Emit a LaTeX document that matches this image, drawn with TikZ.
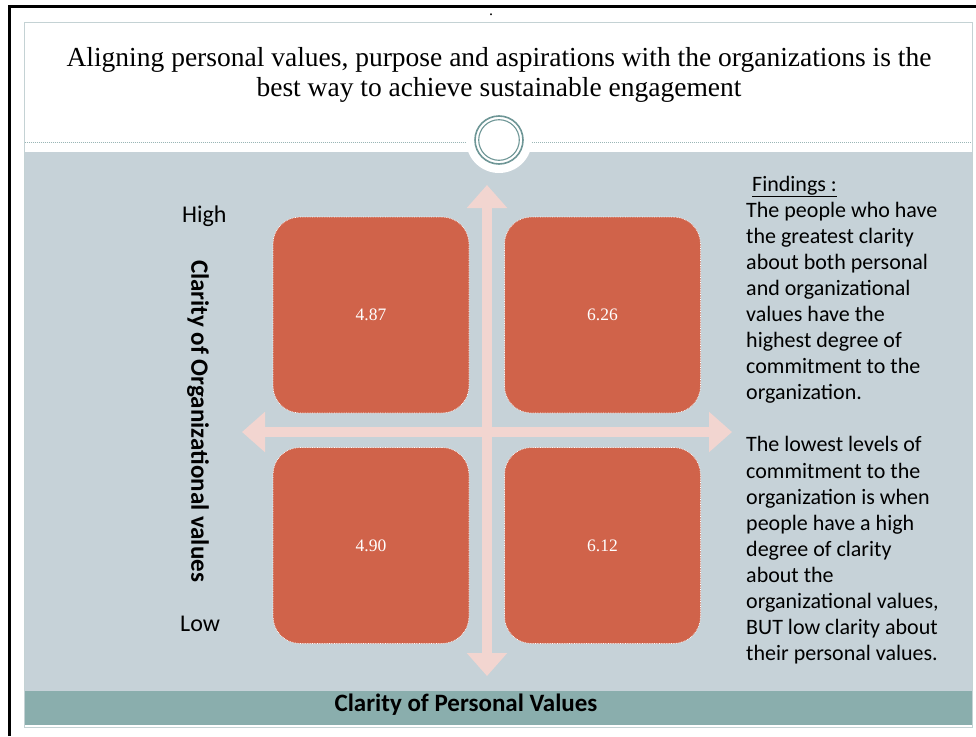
\documentclass[tikz,border=0pt]{standalone}
\usepackage{fontspec}
\setmainfont{Liberation Serif}
\newfontfamily\calfont{Carlito}
\usetikzlibrary{arrows.meta}
\definecolor{slidebg}{RGB}{198,210,216}
\definecolor{bandc}{RGB}{138,174,173}
\definecolor{boxc}{RGB}{208,99,74}
\definecolor{arrowc}{RGB}{242,213,208}
\definecolor{ringc}{RGB}{110,150,150}
\definecolor{rulec}{RGB}{196,210,212}
\tikzset{
  quad/.style={draw=white, densely dotted, line width=0.7pt, fill=boxc, rounded corners=27pt,
    minimum width=196pt, minimum height=196pt, inner sep=0pt,
    text=white, font=\fontsize{17.5}{20}\selectfont},
  axisarrow/.style={draw=arrowc, line width=10pt,
    {Triangle[width=39pt,length=23pt]}-{Triangle[width=39pt,length=23pt]}},
  side/.style={font=\calfont\fontsize{22}{26}\selectfont, inner sep=0pt, anchor=base west},
  hilo/.style={font=\calfont\fontsize{24}{28}\selectfont, inner sep=0pt, anchor=base west},
  axlabel/.style={font=\calfont\bfseries\fontsize{25}{28}\selectfont, inner sep=0pt},
}
\begin{document}
\begin{tikzpicture}[x=1pt,y=-1pt]
\useasboundingbox (0,0) rectangle (976,736);
\fill[white] (0,0) rectangle (976,736);
% outer frame
\draw[line width=3pt] (9.5,736) -- (9.5,6.5) -- (976,6.5);
\node[inner sep=0pt, anchor=base, font=\fontsize{16}{16}\selectfont] (dot) at (491,16) {.};
% slide
\draw[rulec, line width=1pt, fill=white] (24,22) rectangle (972,727);
\fill[slidebg] (24.5,152) rectangle (971.5,691);
\fill[bandc] (24.5,691) rectangle (971.5,725);
% dotted rule and circle ornament
\draw[ringc!70, line width=0.6pt, dash pattern=on 1.2pt off 0.8pt] (24.5,142) -- (467,142);
\draw[ringc!70, line width=0.6pt, dash pattern=on 1.2pt off 0.8pt] (532,142) -- (971.5,142);
\fill[white] (499,140) circle (33);
\draw[ringc, line width=1.6pt] (499,140) circle (24);
\draw[ringc, line width=1.1pt] (499,140) circle (20.3);
% title
\node[align=center, font=\fontsize{27.5}{30}\selectfont, inner sep=0pt] (title) at (499,75)
  {Aligning personal values, purpose and aspirations with the organizations is the\\
   best way to achieve sustainable engagement};
% axes
\coordinate (up) at (487,185);
\coordinate (down) at (487,676);
\coordinate (left) at (242,432);
\coordinate (right) at (732,432);
\draw[axisarrow] (left) -- (right);
\draw[axisarrow] (up) -- (down);
% quadrants
\node[quad] (q1) at (371,315) {4.87};
\node[quad] (q2) at (602.5,315) {6.26};
\node[quad] (q3) at (371,545.5) {4.90};
\node[quad] (q4) at (602.5,545.5) {6.12};
% axis labels
\node[hilo] (high) at (182,222) {High};
\node[hilo] (low) at (180,631) {Low};
\node[axlabel, rotate=-90] (ylab) at (198,421) {Clarity of Organizational values};
\node[axlabel] (xlab) at (466,705) {Clarity of Personal Values};
% findings
\node[side] (fh) at (752,191) {\underline{Findings :}};
\foreach \t [count=\i from 0] in {
  The people who have,
  the greatest clarity,
  about both personal,
  and organizational,
  values have the,
  highest degree of,
  commitment to the,
  organization.,
  {},
  The lowest levels of,
  commitment to the,
  organization is when,
  people have a high,
  degree of clarity,
  about the,
  {organizational values,},
  BUT low clarity about,
  their personal values.}
  { \node[side] (f\i) at (746,217+26.1*\i) {\t}; }
\end{tikzpicture}
\end{document}
